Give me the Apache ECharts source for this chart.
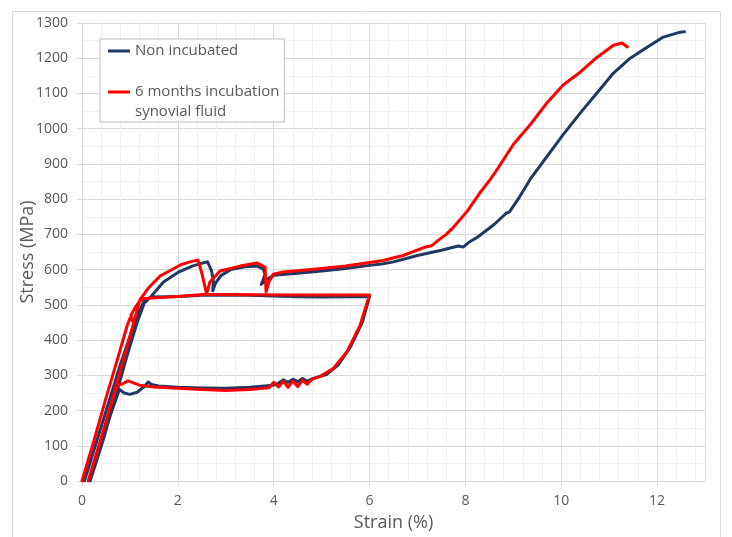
<!DOCTYPE html>
<html>
<head>
<meta charset="utf-8">
<script src="https://cdn.jsdelivr.net/npm/echarts@6/dist/echarts.min.js"></script>
<style>
  html, body { margin: 0; padding: 0; background: #fff; }
  #chart { width: 732px; height: 537px; }
</style>
</head>
<body>
<div id="chart"></div>
<script>
// strain (%) / stress (MPa)
const nonIncubated = [
  [0.05, 0], [0.3, 110], [0.55, 220], [0.8, 330], [1.0, 410], [1.15, 470], [1.3, 512], [1.45, 522],
  [2.0, 524], [2.6, 528], [3.5, 527], [4.5, 523], [5.0, 522], [5.5, 523], [6.0, 524],
  [5.85, 450], [5.6, 380], [5.35, 330], [5.1, 302], [4.85, 292],
  [4.8, 290], [4.7, 283], [4.6, 291], [4.5, 282], [4.4, 289], [4.3, 280], [4.2, 287], [4.1, 278],
  [4.0, 272], [3.5, 266], [3.0, 263], [2.5, 264], [2.0, 266], [1.6, 270], [1.45, 274], [1.38, 281],
  [1.3, 268], [1.15, 252], [1.0, 246], [0.88, 250], [0.78, 260],
  [0.6, 190], [0.4, 105], [0.2, 20], [0.17, 0],
  [0.45, 120], [0.7, 240], [0.95, 360], [1.15, 450], [1.3, 505], [1.45, 525],
  [1.7, 565], [2.0, 592], [2.3, 610], [2.55, 620], [2.62, 622], [2.7, 598], [2.74, 570], [2.73, 540],
  [2.78, 560], [2.9, 583], [3.1, 600], [3.4, 608], [3.65, 610], [3.78, 602], [3.82, 588], [3.78, 570],
  [3.74, 558], [3.85, 572], [4.0, 584],
  [4.5, 590], [5.0, 596], [5.5, 603], [6.0, 612], [6.25, 616], [6.5, 622], [7.0, 640], [7.5, 655],
  [7.85, 667], [7.95, 664], [8.1, 680], [8.25, 692], [8.6, 728], [8.85, 760], [8.92, 764],
  [9.1, 800], [9.35, 856], [9.7, 921], [10.04, 983], [10.4, 1045], [10.75, 1102], [11.09, 1158],
  [11.44, 1200], [11.8, 1232], [12.13, 1260], [12.48, 1274], [12.57, 1275]
];

const incubated6m = [
  [0, 0], [0.25, 115], [0.5, 235], [0.75, 350], [0.94, 440], [1.0, 462], [1.05, 455], [1.02, 470],
  [1.1, 490], [1.2, 510], [1.3, 518],
  [2.0, 524], [2.6, 530], [3.5, 529], [4.5, 528], [5.5, 528], [6.0, 528],
  [5.8, 441], [5.53, 367], [5.24, 319], [4.97, 297], [4.8, 289],
  [4.7, 275], [4.6, 286], [4.5, 268], [4.4, 284], [4.3, 266], [4.2, 283], [4.1, 267], [4.0, 280],
  [3.9, 265], [3.5, 260], [3.0, 257], [2.5, 260], [2.0, 263], [1.5, 267], [1.2, 272],
  [0.96, 284], [0.85, 276], [0.73, 271],
  [0.55, 190], [0.35, 100], [0.15, 10], [0.13, 0],
  [0.4, 120], [0.65, 240], [0.9, 360], [1.1, 460], [1.21, 515],
  [1.4, 550], [1.63, 582], [2.05, 613], [2.25, 622], [2.42, 627], [2.5, 590], [2.6, 531],
  [2.67, 565], [2.88, 596], [3.3, 610], [3.65, 619], [3.82, 607], [3.84, 537], [3.9, 565],
  [3.99, 587], [4.2, 593], [5.0, 603], [5.5, 610], [6.0, 620], [6.28, 626], [6.7, 640],
  [7.16, 664], [7.3, 668], [7.43, 683], [7.6, 700], [7.75, 720], [8.04, 766], [8.31, 819],
  [8.52, 856], [8.66, 884], [9.0, 955], [9.35, 1011], [9.7, 1073], [10.04, 1124], [10.4, 1161],
  [10.75, 1203], [11.09, 1237], [11.27, 1243], [11.38, 1232]
];

const seriesNames = ['Non incubated', '6 months incubation\nsynovial fluid'];
const seriesColors = ['#1f3864', '#ff0000'];

const textColor = '#595959';
const font = 'Open Sans';

const chart = echarts.init(document.getElementById('chart'), null, { renderer: 'canvas' });

chart.setOption({
  animation: false,
  textStyle: { fontFamily: font },
  grid: { left: 82, right: 27, top: 23, bottom: 54, containLabel: false },
  graphic: [{
    type: 'rect',
    shape: { x: 12.5, y: 11.5, width: 708, height: 540 },
    style: { fill: 'none', stroke: '#d9d9d9', lineWidth: 1 },
    silent: true,
    z: -10
  }],
  legend: {
    orient: 'vertical',
    left: 100,
    top: 39,
    padding: [2, 5, 0, 8],
    itemGap: 1,
    itemWidth: 22,
    itemHeight: 3,
    icon: 'path://M0,0 L22,0 L22,3 L0,3 Z',
    borderColor: '#bfbfbf',
    borderWidth: 1,
    backgroundColor: '#fff',
    textStyle: { color: textColor, fontSize: 15, fontFamily: font, lineHeight: 20 },
    // blank first line keeps the icon level with the first text line
    formatter: name => (name.indexOf('\n') >= 0 ? ' \n' + name : name),
    data: seriesNames
  },
  xAxis: [{
    type: 'value',
    min: 0,
    max: 13,
    interval: 2,
    z: 1,
    name: 'Strain (%)',
    nameLocation: 'middle',
    nameGap: 33,
    nameMoveOverlap: false,
    nameTextStyle: { color: textColor, fontSize: 18, fontFamily: font },
    axisLine: { show: true, lineStyle: { color: '#d9d9d9', width: 1 } },
    axisTick: { show: true, length: 5, lineStyle: { color: '#d9d9d9' } },
    axisLabel: { color: textColor, fontSize: 14, margin: 13, showMaxLabel: false },
    splitLine: { show: true, lineStyle: { color: '#d9d9d9', width: 1 } }
  }, {
    type: 'value',
    min: 0,
    max: 13,
    interval: 0.4,
    z: 0,
    position: 'bottom',
    axisLine: { show: false },
    axisTick: { show: false },
    axisLabel: { show: false },
    splitLine: { show: true, lineStyle: { color: '#f0f0f0', width: 1 } }
  }],
  yAxis: {
    type: 'value',
    min: 0,
    max: 1300,
    interval: 100,
    name: 'Stress (MPa)',
    nameLocation: 'middle',
    nameGap: 45,
    nameMoveOverlap: false,
    nameTextStyle: { color: textColor, fontSize: 18, fontFamily: font },
    axisLine: { show: true, lineStyle: { color: '#d9d9d9', width: 1 } },
    axisTick: { show: true, length: 5, lineStyle: { color: '#d9d9d9' } },
    axisLabel: { color: textColor, fontSize: 14, margin: 14, formatter: v => String(v) },
    splitLine: { show: true, lineStyle: { color: '#d9d9d9', width: 1 } },
    minorTick: { show: false, splitNumber: 2 },
    minorSplitLine: { show: true, lineStyle: { color: '#f0f0f0', width: 1 } }
  },
  series: [nonIncubated, incubated6m].map((pts, i) => ({
    name: seriesNames[i],
    type: 'line',
    xAxisIndex: 0,
    data: pts,
    showSymbol: false,
    symbol: 'none',
    color: seriesColors[i],
    lineStyle: { color: seriesColors[i], width: 3, join: 'round', cap: 'round' },
    z: 2 + i
  }))
});
</script>
</body>
</html>
